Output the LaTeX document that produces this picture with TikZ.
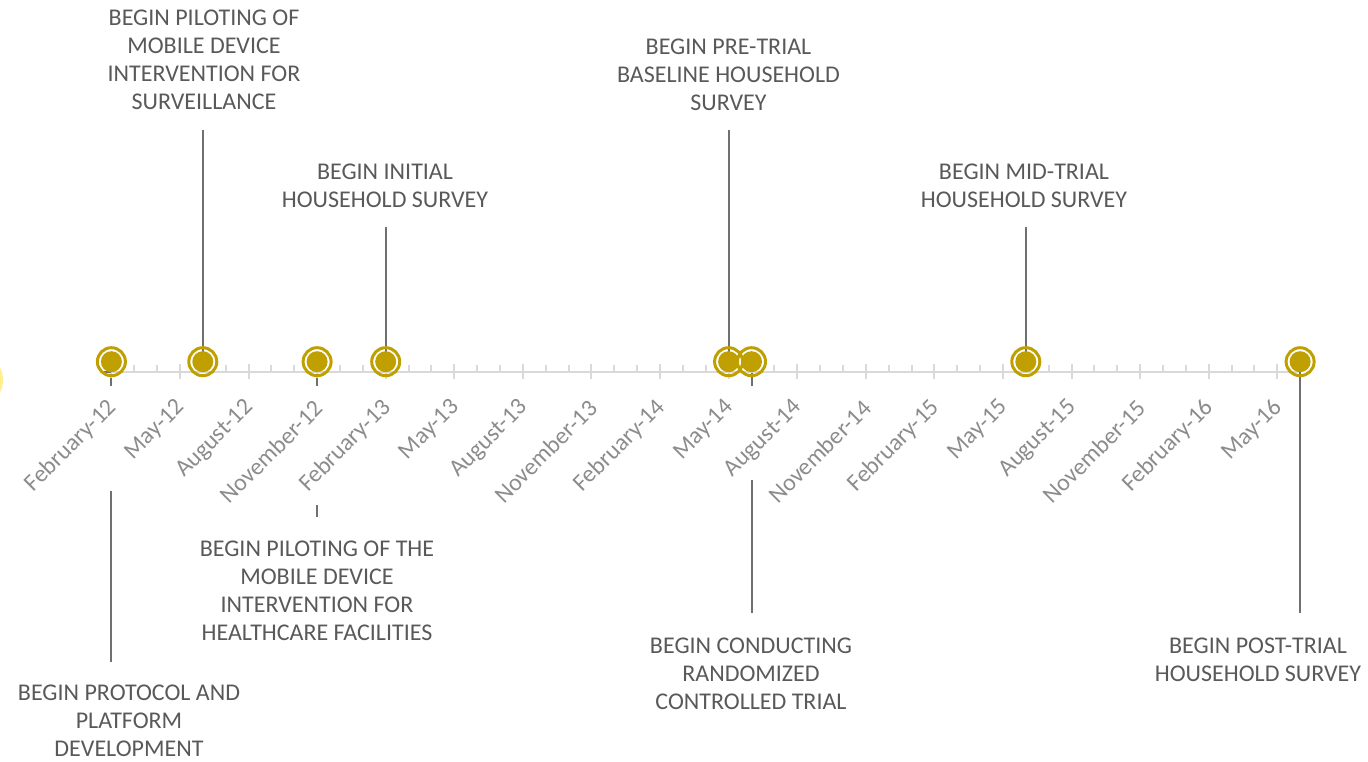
\documentclass[tikz,border=0pt]{standalone}
\usepackage{fontspec}
\setmainfont{Carlito}
\definecolor{gold}{HTML}{BFA000}
\definecolor{txt}{HTML}{595959}
\definecolor{axl}{HTML}{8C8C8C}
\definecolor{axisgray}{HTML}{D9D9D9}
\definecolor{drop}{HTML}{707070}
\definecolor{glow}{HTML}{FFE860}
\begin{document}
\begin{tikzpicture}[x=1pt,y=-1pt,
  evt/.style={font=\fontsize{24}{28}\selectfont, text=txt, align=center, inner sep=0pt, anchor=north},
  dlab/.style={font=\fontsize{24}{28}\selectfont, text=axl, rotate=45, anchor=east, inner sep=0pt},
  dropline/.style={draw=drop, line width=2pt},
  axisline/.style={draw=axisgray, line width=2pt},
  ring/.style={circle, draw=gold, line width=3pt, minimum size=28pt, inner sep=0pt},
  dot/.style={circle, fill=gold, minimum size=21pt, inner sep=0pt}]
\useasboundingbox (0,0) rectangle (1368,762);

% glow at left edge
\fill[glow, opacity=0.7] (-9,380) ellipse [x radius=12pt, y radius=19pt];

% axis
\coordinate (axL) at (103,371.7);
\coordinate (axR) at (1300,371.7);
\draw[axisline] (axL) -- (axR);
\foreach \k in {0,...,17}{
  \draw[axisline] ({111.4+68.58*\k},364) -- ++(0,15);
}
\foreach \m in {1,...,52}{
  \pgfmathtruncatemacro{\r}{mod(\m,3)}
  \ifnum\r=0\else
    \draw[axisline] ({111.4+22.86*\m},365) -- ++(0,6);
  \fi
}
\draw[draw=drop, line width=2pt] (104,372) -- (111.4,372);

% axis labels
\foreach \k/\t in {0/February-12,1/May-12,2/August-12,3/November-12,
  4/February-13,5/May-13,6/August-13,7/November-13,
  8/February-14,9/May-14,10/August-14,11/November-14,
  12/February-15,13/May-15,14/August-15,15/November-15,
  16/February-16,17/May-16}{
  \node[dlab] (d\k) at ({111.4+68.58*\k+1.5},404) {\t};
}

% event labels
\node[evt] (e1) at (129,685) {BEGIN PROTOCOL AND\\PLATFORM\\DEVELOPMENT};
\node[evt] (e2) at (204,10) {BEGIN PILOTING OF\\MOBILE DEVICE\\INTERVENTION FOR\\SURVEILLANCE};
\node[evt] (e3) at (317,541) {BEGIN PILOTING OF THE\\MOBILE DEVICE\\INTERVENTION FOR\\HEALTHCARE FACILITIES};
\node[evt] (e4) at (385,164) {BEGIN INITIAL\\HOUSEHOLD SURVEY};
\node[evt] (e5) at (728.5,39) {BEGIN PRE-TRIAL\\BASELINE HOUSEHOLD\\SURVEY};
\node[evt] (e6) at (751,638) {BEGIN CONDUCTING\\RANDOMIZED\\CONTROLLED TRIAL};
\node[evt] (e7) at (1024,164) {BEGIN MID-TRIAL\\HOUSEHOLD SURVEY};
\node[evt] (e8) at (1258,638) {BEGIN POST-TRIAL\\HOUSEHOLD SURVEY};

% marker positions
\coordinate (p1) at (111.4,361.7);
\coordinate (p2) at (202.8,361.7);
\coordinate (p3) at (317.1,361.7);
\coordinate (p4) at (385.7,361.7);
\coordinate (p5) at (728.6,361.7);
\coordinate (p6) at (751.5,361.7);
\coordinate (p7) at (1025.8,361.7);
\coordinate (p8) at (1300.1,361.7);

% line end coordinates
\coordinate (s1a) at (111.4,378); \coordinate (s1b) at (111.4,386);
\coordinate (l1a) at (111.4,491); \coordinate (l1b) at (111.4,662);
\coordinate (l2) at (202.8,130);
\coordinate (s3a) at (317.1,378); \coordinate (s3b) at (317.1,386);
\coordinate (l3a) at (317.1,505); \coordinate (l3b) at (317.1,517);
\coordinate (l4) at (385.7,227);
\coordinate (l5) at (728.6,130);
\coordinate (s6a) at (751.5,373); \coordinate (s6b) at (751.5,386);
\coordinate (l6a) at (751.5,480); \coordinate (l6b) at (751.5,613);
\coordinate (l7) at (1025.8,227);
\coordinate (l8) at (1300.1,613);

\draw[dropline] (s1a) -- (s1b);
\draw[dropline] (l1a) -- (l1b);
\draw[dropline] (l2) -- (p2);
\draw[dropline] (s3a) -- (s3b);
\draw[dropline] (l3a) -- (l3b);
\draw[dropline] (l4) -- (p4);
\draw[dropline] (l5) -- (p5);
\draw[dropline] (s6a) -- (s6b);
\draw[dropline] (l6a) -- (l6b);
\draw[dropline] (l7) -- (p7);
\draw[dropline] (p8) -- (l8);

% markers
\foreach \i in {1,...,8}{
  \node[ring] (r\i) at (p\i) {};
  \node[dot] (c\i) at (p\i) {};
}
\end{tikzpicture}
\end{document}
